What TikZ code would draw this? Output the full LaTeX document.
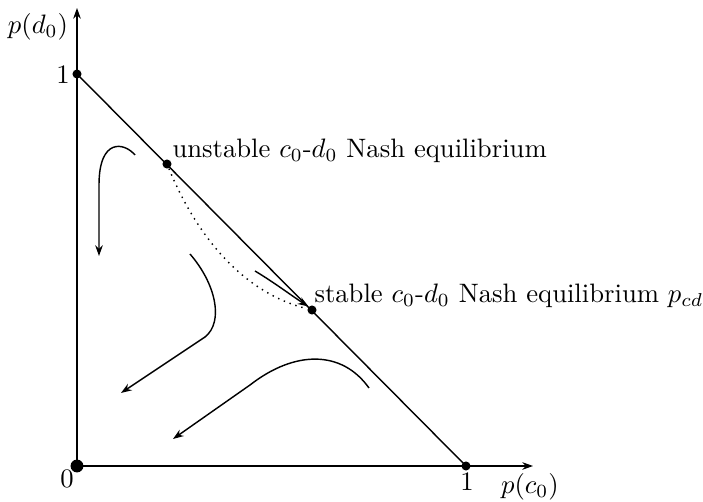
\documentclass[tikz,border=0pt]{standalone}
\usetikzlibrary{arrows.meta}
\begin{document}
\begin{tikzpicture}[x=0.42pt,y=-0.42pt,
  ln/.style={line width=0.6pt},
  arr/.style={ln,-{Stealth[length=4.5pt,width=3.2pt]}},
  dotpt/.style={circle,fill=black,inner sep=0pt,minimum size=3.8pt},
  lbl/.style={inner sep=0pt,scale=1.12}]
\useasboundingbox (0,0) rectangle (703,502);
% axes
\coordinate (O) at (77,466);
\coordinate (xe) at (533,466);
\coordinate (ye) at (77,8);
\draw[arr] (O) -- (xe);
\draw[arr] (O) -- (ye);
\node[dotpt] (X1) at (466,466) {};
\node[dotpt] (Y1) at (77,74) {};
\node[dotpt] (U) at (167,164) {};
\node[dotpt] (S) at (312,310) {};
\node[circle,fill=black,inner sep=0pt,minimum size=5.4pt] (Ob) at (O) {};
\draw[ln] (Y1.center) -- (X1.center);
% labels
\node[lbl] (lpd) at (38,27) {$p(d_0)$};
\node[lbl] (l1y) at (63,75) {$1$};
\node[lbl] (l0) at (67,479) {$0$};
\node[lbl] (l1x) at (467,482) {$1$};
\node[lbl] (lpc) at (530,487) {$p(c_0)$};
\node[lbl,anchor=west] (lu) at (172,151) {unstable $c_0$-$d_0$ Nash equilibrium};
\node[lbl,anchor=west] (ls) at (314,296) {stable $c_0$-$d_0$ Nash equilibrium $p_{cd}$};
% trajectories
\coordinate (t1s) at (135,155);
\coordinate (t1e) at (99,256);
\draw[arr] (t1s) .. controls (124,142) and (99,138) .. (99,185) -- (t1e);
\draw[ln,dotted] (U) .. controls (195,232) and (240,292) .. (S);
\coordinate (t2s) at (255,271);
\draw[arr] (t2s) .. controls (275,283) and (292,296) .. (S.north west);
\coordinate (t3s) at (190,254);
\coordinate (t3e) at (121,393);
\draw[arr] (t3s) .. controls (216,284) and (224,322) .. (205,337) -- (t3e);
\coordinate (t4s) at (369,388);
\coordinate (t4e) at (173,439);
\draw[arr] (t4s) .. controls (342,350) and (295,350) .. (250,385) -- (t4e);
\end{tikzpicture}
\end{document}
